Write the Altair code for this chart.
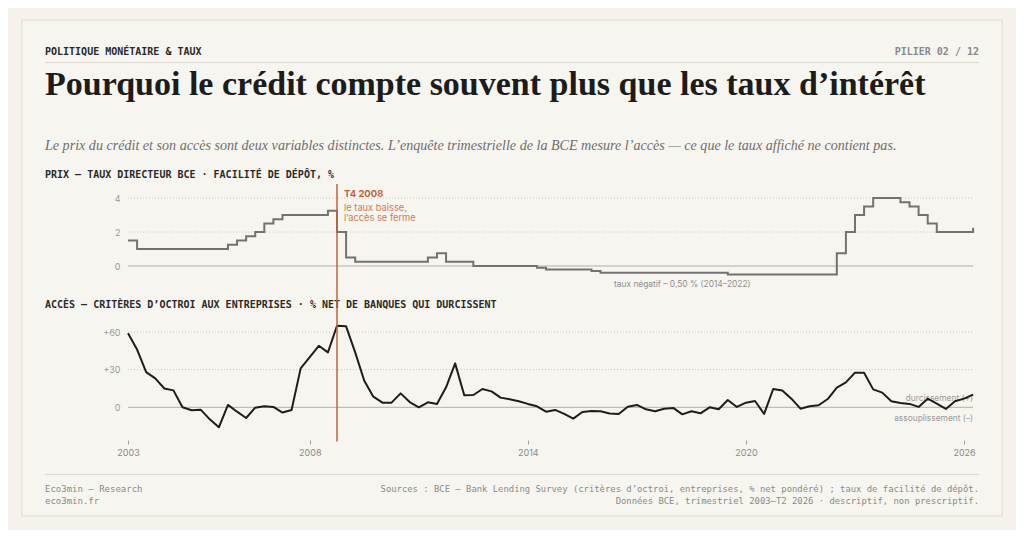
import altair as alt
import pandas as pd

# ---------------- data ----------------
years = list(range(2003, 2027))
quarter_index = [0, 1, 2, 3]

# ECB deposit facility rate, % (quarterly, 2003-T1 .. 2026-T2)
rate = [
    1.5, 1.0, 1.0, 1.0,      # 2003
    1.0, 1.0, 1.0, 1.0,      # 2004
    1.0, 1.0, 1.0, 1.25,     # 2005
    1.5, 1.75, 2.0, 2.5,     # 2006
    2.75, 3.0, 3.0, 3.0,     # 2007
    3.0, 3.0, 3.25, 2.0,     # 2008
    0.5, 0.25, 0.25, 0.25,   # 2009
    0.25, 0.25, 0.25, 0.25,  # 2010
    0.25, 0.5, 0.75, 0.25,   # 2011
    0.25, 0.25, 0.0, 0.0,    # 2012
    0.0, 0.0, 0.0, 0.0,      # 2013
    0.0, -0.1, -0.2, -0.2,   # 2014
    -0.2, -0.2, -0.2, -0.3,  # 2015
    -0.4, -0.4, -0.4, -0.4,  # 2016
    -0.4, -0.4, -0.4, -0.4,  # 2017
    -0.4, -0.4, -0.4, -0.4,  # 2018
    -0.4, -0.4, -0.5, -0.5,  # 2019
    -0.5, -0.5, -0.5, -0.5,  # 2020
    -0.5, -0.5, -0.5, -0.5,  # 2021
    -0.5, -0.5, 0.75, 2.0,   # 2022
    3.0, 3.5, 4.0, 4.0,      # 2023
    4.0, 3.75, 3.5, 3.0,     # 2024
    2.5, 2.0, 2.0, 2.0,      # 2025
    2.0, 2.25,               # 2026
]

# Bank Lending Survey: net % of banks tightening credit standards (enterprises)
bls = [
    59, 46, 28, 23, 15, 13.5, 0, -2.4, -1.9, -9.6, -15.9, 1.9, -3.5, -8.5,
    -0.3, 0.8, 0.3, -4.2, -2.1, 31, 40, 49, 43.8, 65, 64.5, 43.8, 21.2, 8.5,
    3.7, 3.7, 11.1, 4.2, 0, 4, 2.7, 15.9, 35, 9.6, 9.8, 14.6, 12.7, 7.7, 6.4,
    4.8, 2.7, 0.8, -3.5, -2.1, -5.3, -9, -3.7, -2.9, -3.2, -5, -5.3, 0.5, 1.9,
    -1.6, -3.2, -1.1, -0.5, -5.6, -3.2, -4.8, 0, -1.6, 5.8, 0.3, 3.7, 5, -5.3,
    14.6, 13.3, 6.9, -1.1, 0.8, 1.6, 6.6, 15.7, 19.9, 27.6, 27.6, 14.3, 11.7,
    4.8, 3.5, 2.7, 0.3, 6.9, 2.9, -1.3, 4.8, 6.9, 10.1,
]

period = [y + q / 4 for y in years for q in quarter_index][: len(rate)]
assert len(rate) == len(bls) == len(period) == 94

x_ticks = [2003, 2008, 2014, 2020, 2026]
rate_ticks = [0, 2, 4]
bls_ticks = [0, 30, 60]
rate_grid = [2, 4]
bls_grid = [30, 60]
event_x = 2008.75
x_start, x_end = 2003, 2026.25
neg_note_x = 2018.25

kicker = "POLITIQUE MONÉTAIRE & TAUX"
pillar = "PILIER 02 / 12"
title = "Pourquoi le crédit compte souvent plus que les taux d’intérêt"
subtitle = ("Le prix du crédit et son accès sont deux variables distinctes. "
            "L’enquête trimestrielle de la BCE mesure l’accès — ce que le taux affiché ne contient pas.")
head_top = "PRIX — TAUX DIRECTEUR BCE · FACILITÉ DE DÉPÔT, %"
head_bot = "ACCÈS — CRITÈRES D’OCTROI AUX ENTREPRISES · % NET DE BANQUES QUI DURCISSENT"
event_title = "T4 2008"
event_lines = ["le taux baisse,", "l’accès se ferme"]
neg_note = "taux négatif – 0,50 % (2014–2022)"
tight_note = "durcissement (+)"
ease_note = "assouplissement (–)"
foot_left = ["Eco3min — Research", "eco3min.fr"]
foot_right = ["Sources : BCE — Bank Lending Survey (critères d’octroi, entreprises, % net pondéré) ; taux de facilité de dépôt.",
              "Données BCE, trimestriel 2003–T2 2026 · descriptif, non prescriptif."]

df = pd.DataFrame({"t": period, "rate": rate, "bls": bls})

# ---------------- styling ----------------
BG = "#f5f2eb"
CARD = "#f7f5ef"
RED = "#c2623d"
RED_L = "#cf7b59"
SANS = "Inter"
MONO = "DejaVu Sans Mono"
SERIF = "Liberation Serif"

W, H = 1008, 522
xs = alt.Scale(domain=[x_start, x_end], range=[120, 120 + 23.25 * 36.35], nice=False, zero=False)
ys_top = alt.Scale(domain=[0, 4], range=[258, 190], nice=False, zero=False)
ys_bot = alt.Scale(domain=[0, 60], range=[399.3, 324], nice=False, zero=False)

# one shared x axis definition, used by every layer so that the merged axis is identical
XAX = alt.Axis(values=x_ticks, format="d", orient="bottom", offset=-90, domain=False,
               grid=False, ticks=True, tickSize=4, tickColor="#a0a0a0", labelPadding=4,
               labelFlush=False, labelColor="#8a8a8a", labelFont=SANS, labelFontSize=9,
               title=None, zindex=1)


def one(s):
    return pd.DataFrame({"s": [s]})


def text(s, x, y, **kw):
    return alt.Chart(one(s)).mark_text(**kw).encode(
        text="s:N", x=alt.value(x), y=alt.value(y))


def hrules(values, scale, axis=None, **kw):
    d = pd.DataFrame({"v": values, "x0": [x_start] * len(values), "x1": [x_end] * len(values)})
    return alt.Chart(d).mark_rule(**kw).encode(
        y=alt.Y("v:Q", scale=scale, axis=axis),
        x=alt.X("x0:Q", scale=xs, axis=XAX), x2="x1:Q")


def anchored(s, xval, y, **kw):
    d = pd.DataFrame({"s": [s], "x0": [xval]})
    return alt.Chart(d).mark_text(**kw).encode(
        text="s:N", x=alt.X("x0:Q", scale=xs, axis=XAX), y=alt.value(y))


# card
card = alt.Chart(one("card")).mark_rect(fill=CARD, stroke="#e2ddd2", strokeWidth=1).encode(
    x=alt.value(14), x2=alt.value(994), y=alt.value(12), y2=alt.value(508))

rule_head = alt.Chart(one("r")).mark_rule(color="#e0dbd0", strokeWidth=1).encode(
    x=alt.value(37), x2=alt.value(971), y=alt.value(54.5))
rule_foot = alt.Chart(one("r")).mark_rule(color="#e0dbd0", strokeWidth=1).encode(
    x=alt.value(37), x2=alt.value(971), y=alt.value(466.5))

texts = [
    text(kicker, 37, 43.5, align="left", baseline="middle", font=MONO, fontSize=10,
         fontWeight="bold", color="#2a2a2a"),
    text(pillar, 971, 43.5, align="right", baseline="middle", font=MONO, fontSize=10,
         fontWeight="bold", color="#8a8a8a"),
    text(title, 37, 87, align="left", baseline="alphabetic", font=SERIF, fontSize=34,
         fontWeight="bold", color="#1c1c1c"),
    text(subtitle, 37, 138, align="left", baseline="middle", font=SERIF, fontSize=14.1,
         fontStyle="italic", color="#6e6e6e"),
    text(head_top, 37, 167, align="left", baseline="middle", font=MONO, fontSize=10,
         fontWeight="bold", color="#2a2a2a"),
    text(head_bot, 37, 296.5, align="left", baseline="middle", font=MONO, fontSize=10,
         fontWeight="bold", color="#2a2a2a"),
    text(foot_left[0], 37, 481.3, align="left", baseline="middle", font=MONO, fontSize=9,
         color="#8a8a8a"),
    text(foot_left[1], 37, 492.7, align="left", baseline="middle", font=MONO, fontSize=9,
         color="#8a8a8a"),
    text(foot_right[0], 971, 481.3, align="right", baseline="middle", font=MONO, fontSize=8.9,
         color="#8a8a8a"),
    text(foot_right[1], 971, 492.7, align="right", baseline="middle", font=MONO, fontSize=8.9,
         color="#8a8a8a"),
]

ax_common = dict(orient="left", offset=-120, ticks=False, tickSize=0, domain=False, grid=False,
                 labelPadding=8, labelColor="#9a9a9a", labelFont=SANS, labelFontSize=9,
                 title=None, zindex=1)

# ---------------- top panel: deposit rate ----------------
grid_top = hrules(rate_grid, ys_top, color="#cdc8bd", strokeWidth=1, strokeDash=[1, 2])
zero_top = hrules([0], ys_top, axis=alt.Axis(values=rate_ticks, **ax_common),
                  color="#b3afa6", strokeWidth=1)
step = alt.Chart(df).mark_line(interpolate="step-after", color="#727272", strokeWidth=2).encode(
    x=alt.X("t:Q", scale=xs, axis=XAX),
    y=alt.Y("rate:Q", scale=ys_top, axis=None))
neg = anchored(neg_note, neg_note_x, 276, align="center", baseline="middle", font=SANS,
               fontSize=8.4, color="#8f8f8f")

# ---------------- bottom panel: BLS ----------------
grid_bot = hrules(bls_grid, ys_bot, color="#cdc8bd", strokeWidth=1, strokeDash=[1, 2])
zero_bot = hrules([0], ys_bot, axis=alt.Axis(
    values=bls_ticks, labelExpr="datum.value > 0 ? '+' + datum.label : datum.label", **ax_common),
    color="#b3afa6", strokeWidth=1)
line = alt.Chart(df).mark_line(color="#1d1d1d", strokeWidth=2, strokeJoin="round").encode(
    x=alt.X("t:Q", scale=xs, axis=XAX),
    y=alt.Y("bls:Q", scale=ys_bot, axis=None))
tight = anchored(tight_note, x_end, 390, align="right", baseline="middle", font=SANS,
                 fontSize=8.4, color="#9a9a9a")
ease = anchored(ease_note, x_end, 409.7, align="right", baseline="middle", font=SANS,
                fontSize=8.4, color="#9a9a9a")

# ---------------- event marker ----------------
event = alt.Chart(pd.DataFrame({"x0": [event_x]})).mark_rule(color=RED, strokeWidth=1.5).encode(
    x=alt.X("x0:Q", scale=xs, axis=XAX), y=alt.value(176), y2=alt.value(433.5))
ev_t = anchored(event_title, event_x, 186.3, align="left", baseline="middle", dx=7, font=SANS,
                fontSize=9.5, fontWeight="bold", color=RED)
ev_l1 = anchored(event_lines[0], event_x, 199.7, align="left", baseline="middle", dx=7,
                 font=SANS, fontSize=9.3, color=RED_L)
ev_l2 = anchored(event_lines[1], event_x, 210.3, align="left", baseline="middle", dx=7,
                 font=SANS, fontSize=9.3, color=RED_L)

chart = alt.layer(
    card, rule_head, rule_foot, *texts,
    grid_top, zero_top, step, neg,
    grid_bot, zero_bot, tight, ease, line,
    event, ev_t, ev_l1, ev_l2,
).resolve_scale(y="independent").properties(
    width=W, height=H, padding=0, autosize="none", background=BG
).configure_view(stroke=None)

chart.save("out.html", embed_options={"renderer": "svg", "actions": False})
